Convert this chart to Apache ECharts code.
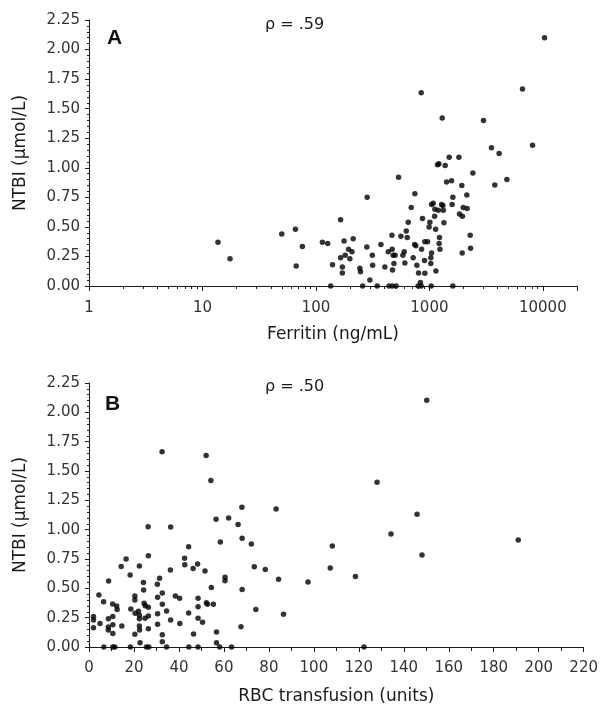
<!DOCTYPE html>
<html>
<head>
<meta charset="utf-8">
<script src="https://cdn.jsdelivr.net/npm/echarts@6/dist/echarts.min.js"></script>
<style>
  html, body { margin: 0; padding: 0; background: #fff; }
  #chart { width: 601px; height: 709px; }
</style>
</head>
<body>
<div id="chart"></div>
<script>
// panel A: ferritin (ng/mL) vs NTBI (umol/L)
const ferritin = [13.7, 17.5, 50, 66, 67, 76, 114, 127, 135, 140, 165, 165, 171, 171, 177, 181, 194, 199, 208, 213,
  244, 247, 258, 283, 281, 299, 314, 316, 347, 374, 405, 434, 440, 470, 468, 470, 479, 499, 487, 473,
  509, 535, 561, 584, 600, 608, 625, 638, 651, 692, 720, 745, 741, 760, 776, 803, 795, 833, 847, 847,
  853, 869, 912, 964, 906, 912, 995, 1010, 1030, 1045, 1030, 1037, 1045, 1081, 1118, 1112, 1135, 1141, 1180, 1213,
  1197, 1227, 1219, 1239, 1280, 1297, 1315, 1325, 1343, 1378, 1418, 1495, 1568, 1610, 1586, 1610, 1820, 1842, 1954, 1932,
  1945, 1986, 2138, 2153, 2290, 2306, 2417, 3000, 3524, 3773, 4120, 4820, 6620, 8110, 10350]
const ntbiA = [0.37, 0.23, 0.44, 0.48, 0.17, 0.335, 0.37, 0.36, 0, 0.18, 0.56, 0.24, 0.16, 0.11, 0.38, 0.26, 0.31, 0.23, 0.29, 0.40,
  0.15, 0.12, 0, 0.75, 0.33, 0.05, 0.26, 0.175, 0, 0.35, 0.16, 0.29, 0, 0, 0.43, 0.31, 0.26, 0.26, 0.19, 0.135,
  0, 0.92, 0.42, 0.26, 0.29, 0.195, 0.465, 0.41, 0.54, 0.665, 0.24, 0.78, 0.35, 0.34, 0.175, 0.11, 0, 0.03, 0, 1.635,
  0.31, 0.57, 0.375, 0.375, 0.215, 0.107, 0.50, 0.54, 0.24, 0.28, 0.19, 0, 0.69, 0.70, 0.65, 0.59, 0.48, 0.127, 1.026, 1.035,
  0.64, 0.41, 0.36, 0.31, 0.69, 1.42, 0.68, 0.64, 0.535, 1.02, 0.88, 1.09, 0.89, 0.75, 0.69, 0, 1.09, 0.61, 0.59, 0.85,
  0.28, 0.665, 0.77, 0.655, 0.43, 0.32, 0.955, 1.40, 1.17, 0.855, 1.12, 0.90, 1.667, 1.19, 2.10]

// panel B: RBC transfusion (units) vs NTBI (umol/L)
const rbcUnits = [2, 2, 2, 4.4, 4.9, 6.5, 6.6, 8.7, 8.6, 8.6, 8.6, 10.5, 10.6, 10.6, 10.6, 10.6, 11.5, 12.3, 12.5, 14.3,
  14.6, 16.5, 18.3, 18.4, 18.6, 20.4, 20.4, 20.4, 20.5, 22, 22.4, 22.4, 22.4, 22.4, 22.5, 22.7, 24.2, 24.3, 24.5, 25,
  24.9, 25.5, 26.3, 26.4, 26.4, 26.4, 26.4, 26.6, 30.4, 30.5, 30.5, 30.5, 31.4, 32.5, 32.6, 32.6, 32.6, 32.6, 34.5, 34.5,
  36.2, 36.3, 36.3, 38.4, 40.3, 40.4, 42.5, 42.6, 44.3, 44.3, 44.4, 46.3, 46.5, 48.3, 48.5, 48.5, 48.5, 48.5, 50.5, 51.6,
  52.1, 52.2, 52.7, 54.2, 54.4, 55.3, 56.5, 56.7, 56.7, 58.1, 58.4, 60.5, 60.5, 62.1, 63.4, 66.3, 68, 68.1, 68.1, 67.6,
  72.2, 73.5, 74.2, 78.4, 83.2, 84.3, 86.5, 97.4, 107.3, 108.2, 118.5, 122.3, 128.1, 134.3, 145.9, 148.1, 150.2, 190.9]
const ntbiB = [0.26, 0.23, 0.165, 0.443, 0.2, 0.386, 0, 0.5625, 0.24, 0.17, 0.145, 0.366, 0.26, 0.19, 0.114, 0, 0, 0.35, 0.32, 0.687,
  0.18, 0.75, 0.614, 0, 0.324, 0.435, 0.40, 0.108, 0.287, 0.304, 0.69, 0.27, 0.24, 0.18, 0.145, 0.037, 0.55, 0.486, 0.372, 0.352,
  0.244, 0, 1.025, 0.778, 0.338, 0.264, 0.156, 0, 0.534, 0.423, 0.193, 0.284, 0.585, 1.665, 0.46, 0.364, 0.105, 0.045, 0, 0.307,
  0.656, 1.023, 0.23, 0.435, 0.415, 0.2, 0.756, 0.70, 0.855, 0.29, 0, 0.67, 0.11, 0.707, 0.415, 0.344, 0.244, 0, 0.21, 0.648,
  1.633, 0.378, 0.364, 1.418, 0.508, 0.364, 1.088, 0.128, 0.037, 0, 0.895, 0.594, 0.565, 1.1, 0, 1.045, 1.19, 0.926, 0.489, 0.173,
  0.878, 0.685, 0.32, 0.66, 1.176, 0.577, 0.28, 0.554, 0.674, 0.861, 0.6, 0, 1.404, 0.963, 1.131, 0.784, 2.103, 0.912]

const panelLetters = ['A', 'B']
const rhoLabels = ['\u03c1 = .59', '\u03c1 = .50']
const yName = 'NTBI (\u03bcmol/L)'

const font = 'DejaVu Sans'
const ink = '#1a1a1a'

function yAxisFor(gridIndex) {
  return {
    type: 'value',
    gridIndex,
    min: 0,
    max: 2.25,
    interval: 0.25,
    name: yName,
    nameLocation: 'middle',
    nameGap: 60,
    nameTextStyle: { fontFamily: font, fontSize: 17, color: ink },
    axisLine: { show: true, lineStyle: { color: ink, width: 1 } },
    axisTick: { show: true, length: 4, lineStyle: { color: ink } },
    minorTick: { show: true, splitNumber: 5, length: 2, lineStyle: { color: ink } },
    splitLine: { show: false },
    axisLabel: {
      margin: 9,
      fontFamily: font,
      fontSize: 15,
      color: '#333',
      formatter: v => v.toFixed(2)
    }
  }
}

const chart = echarts.init(document.getElementById('chart'))
chart.setOption({
  backgroundColor: '#fff',
  animation: false,
  grid: [
    { left: 89, top: 20, right: 24, bottom: 423 },
    { left: 89, top: 383, right: 15, bottom: 62 }
  ],
  xAxis: [
    {
      type: 'log',
      gridIndex: 0,
      logBase: 10,
      min: 1,
      max: 20000,
      name: 'Ferritin (ng/mL)',
      nameLocation: 'middle',
      nameGap: 40,
      nameTextStyle: { fontFamily: font, fontSize: 17, color: ink },
      axisLine: { lineStyle: { color: ink, width: 1 } },
      axisTick: { show: true, length: 5, lineStyle: { color: ink } },
      minorTick: { show: true, splitNumber: 9, length: 3, lineStyle: { color: ink } },
      splitLine: { show: false },
      axisLabel: {
        margin: 15,
        fontFamily: font,
        fontSize: 15,
        color: '#333',
        showMaxLabel: false,
        formatter: v => String(Math.round(v))
      }
    },
    {
      type: 'value',
      gridIndex: 1,
      min: 0,
      max: 220,
      interval: 20,
      name: 'RBC transfusion (units)',
      nameLocation: 'middle',
      nameGap: 41,
      nameTextStyle: { fontFamily: font, fontSize: 17, color: ink },
      axisLine: { lineStyle: { color: ink, width: 1 } },
      axisTick: { show: true, length: 5, lineStyle: { color: ink } },
      minorTick: { show: true, splitNumber: 2, length: 4, lineStyle: { color: ink } },
      splitLine: { show: false },
      axisLabel: { margin: 14, fontFamily: font, fontSize: 15, color: '#333' }
    }
  ],
  yAxis: [yAxisFor(0), yAxisFor(1)],
  series: [
    {
      type: 'scatter',
      xAxisIndex: 0,
      yAxisIndex: 0,
      symbol: 'circle',
      symbolSize: 5.5,
      itemStyle: { color: '#000' },
      clip: false,
      data: ferritin.map((f, i) => [f, ntbiA[i]])
    },
    {
      type: 'scatter',
      xAxisIndex: 1,
      yAxisIndex: 1,
      symbol: 'circle',
      symbolSize: 5.5,
      itemStyle: { color: '#000' },
      clip: false,
      data: rbcUnits.map((u, i) => [u, ntbiB[i]])
    }
  ],
  graphic: [
    { type: 'text', left: 107, top: 28, style: { text: panelLetters[0], fontFamily: 'Liberation Sans', fontWeight: 'bold', fontSize: 21, fill: '#111' } },
    { type: 'text', left: 265, top: 17, style: { text: rhoLabels[0], fontFamily: font, fontSize: 16, fill: ink } },
    { type: 'text', left: 105, top: 394, style: { text: panelLetters[1], fontFamily: 'Liberation Sans', fontWeight: 'bold', fontSize: 21, fill: '#111' } },
    { type: 'text', left: 265, top: 379, style: { text: rhoLabels[1], fontFamily: font, fontSize: 16, fill: ink } }
  ]
})
</script>
</body>
</html>
